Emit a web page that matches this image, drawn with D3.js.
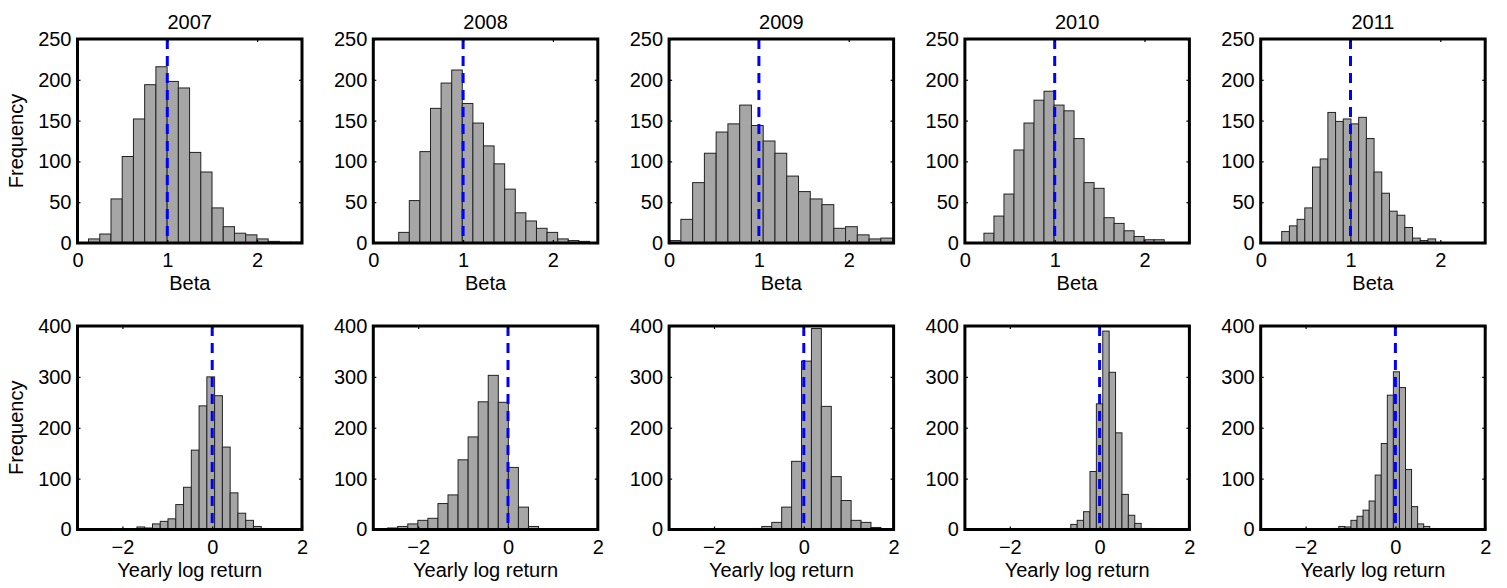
<!DOCTYPE html>
<html>
<head>
<meta charset="utf-8">
<script src="https://cdn.jsdelivr.net/npm/d3@7"></script>
<style>
  body { margin: 0; background: #fff; }
  text { font-family: "Liberation Sans", Arial, sans-serif; font-size: 20px; fill: #000; }
</style>
</head>
<body>
<div id="chart"></div>
<script>
// Yearly histograms of beta (top row) and yearly log return (bottom row).

var years = ["2007", "2008", "2009", "2010", "2011"];

// Beta histograms: first bin edge, bin width and counts per year.
var betaStart = [0.123, 0.283, 0.0, 0.212, 0.234];
var betaWidth = [0.125, 0.118, 0.131, 0.1115, 0.0857];
var beta2007 = [5, 11, 54, 106, 152, 194, 216, 198, 190, 111, 87, 43, 20, 12, 10, 5, 2, 1, 1];
var beta2008 = [13, 52, 112, 165, 196, 212, 171, 147, 119, 97, 66, 37, 27, 18, 13, 5, 3, 2];
var beta2009 = [3, 29, 74, 110, 136, 146, 169, 144, 125, 110, 82, 63, 54, 47, 18, 20, 10, 5, 6];
var beta2010 = [12, 33, 60, 114, 147, 175, 186, 169, 162, 128, 74, 67, 31, 24, 15, 8, 4, 4];
var beta2011 = [14, 21, 29, 43, 93, 103, 160, 149, 152, 146, 154, 128, 87, 61, 39, 34, 19, 6, 3, 5];

// Log return histograms: first bin edge, bin width and counts per year.
var retStart = [-2.022, -2.68, -2.04, -0.927, -1.665];
var retWidth = [0.173, 0.224, 0.221, 0.1425, 0.135];
var ret2007 = [1, 1, 5, 3, 11, 16, 21, 49, 83, 156, 243, 300, 263, 162, 72, 32, 18, 6, 2, 1];
var ret2008 = [3, 6, 11, 18, 22, 51, 68, 137, 182, 251, 303, 250, 122, 44, 6, 1];
var ret2009 = [1, 0, 1, 1, 2, 6, 14, 44, 134, 331, 395, 242, 104, 57, 18, 14, 4, 1];
var ret2010 = [1, 2, 10, 18, 35, 114, 247, 390, 309, 190, 69, 28, 12, 2, 2];
var ret2011 = [1, 1, 2, 6, 5, 18, 26, 38, 56, 107, 169, 264, 310, 279, 118, 45, 11, 6, 2, 1];

var betaDomain = [0, 2.5];
var retDomain = [-3, 2];
var betaXTicks = [0, 1, 2];
var retXTicks = [-2, 0, 2];
var betaYTicks = [0, 50, 100, 150, 200, 250];
var retYTicks = [0, 100, 200, 300, 400];
var betaRef = 1;
var retRef = 0;

var W = 1507, H = 588;
var left0 = 77.5, step = 295.8, panelW = 224.5;
var fmt = d3.format("d");

var svg = d3.select("#chart")
    .append("svg")
    .attr("width", W)
    .attr("height", H)
    .style("background-color", "white");

/**
  * Draws one histogram panel.
  * @param {object} p The panel settings (position, scales domain, data).
  */
function histPanel(p){
    var g = svg.append("g").attr("transform", "translate(" + p.left + "," + p.top + ")");
    var x = d3.scaleLinear().domain(p.domain).range([0, p.w]);
    var y = d3.scaleLinear().domain([0, p.yMax]).range([p.h, 0]);

    var clipId = "clip" + p.id;
    g.append("clipPath").attr("id", clipId)
        .append("rect").attr("width", p.w).attr("height", p.h);

    var bins = p.counts.map(function(c, i){
        return {x0: p.start + i * p.width, x1: p.start + (i + 1) * p.width, n: c};
    });

    g.append("g").attr("clip-path", "url(#" + clipId + ")")
        .selectAll("rect")
        .data(bins)
        .enter().append("rect")
        .attr("x", function(d){ return x(d.x0); })
        .attr("width", function(d){ return x(d.x1) - x(d.x0); })
        .attr("y", function(d){ return y(d.n); })
        .attr("height", function(d){ return y(0) - y(d.n); })
        .attr("fill", "#a6a6a6")
        .attr("stroke", "#222")
        .attr("stroke-width", 1);

    // reference line
    g.append("line")
        .attr("x1", x(p.ref)).attr("x2", x(p.ref))
        .attr("y1", 0).attr("y2", p.h)
        .attr("stroke", "#0000ff")
        .attr("stroke-width", 3)
        .attr("stroke-dasharray", "10,7");

    var ax = [
        g.append("g").attr("transform", "translate(0," + p.h + ")")
            .call(d3.axisBottom(x).tickValues(p.xTicks).tickFormat(fmt).tickSize(-3).tickPadding(10)),
        g.append("g")
            .call(d3.axisLeft(y).tickValues(p.yTicks).tickFormat(fmt).tickSize(-3).tickPadding(6)),
        g.append("g")
            .call(d3.axisTop(x).tickValues(p.xTicks).tickSize(-3).tickFormat("")),
        g.append("g").attr("transform", "translate(" + p.w + ",0)")
            .call(d3.axisRight(y).tickValues(p.yTicks).tickSize(-3).tickFormat(""))
    ];
    ax.forEach(function(a){
        a.select(".domain").remove();
        a.selectAll("line").attr("stroke", "#000").attr("stroke-width", 1.2);
        a.selectAll("text").attr("font-size", 20).attr("font-family", null).attr("fill", "#000");
    });

    g.append("rect")
        .attr("width", p.w).attr("height", p.h)
        .attr("fill", "none")
        .attr("stroke", "#000")
        .attr("stroke-width", 3);

    if (p.title){
        g.append("text").attr("x", p.w / 2).attr("y", -10)
            .attr("text-anchor", "middle").text(p.title);
    }
    g.append("text").attr("x", p.w / 2).attr("y", p.h + 47)
        .attr("text-anchor", "middle").text(p.xLabel);
    if (p.yLabel){
        g.append("text")
            .attr("transform", "translate(" + (22.5 - p.left) + "," + (p.h / 2) + ") rotate(-90)")
            .attr("text-anchor", "middle").text(p.yLabel);
    }
}

var betaCounts = [beta2007, beta2008, beta2009, beta2010, beta2011];
var retCounts = [ret2007, ret2008, ret2009, ret2010, ret2011];

for (var i = 0; i < years.length; i++){
    var left = left0 + i * step;
    histPanel({
        id: "b" + i, left: left, top: 39, w: panelW, h: 204,
        domain: betaDomain, yMax: 250, xTicks: betaXTicks, yTicks: betaYTicks,
        start: betaStart[i], width: betaWidth[i], counts: betaCounts[i], ref: betaRef,
        title: years[i], xLabel: "Beta", yLabel: i == 0 ? "Frequency" : null
    });
    histPanel({
        id: "r" + i, left: left, top: 326, w: panelW, h: 203.5,
        domain: retDomain, yMax: 400, xTicks: retXTicks, yTicks: retYTicks,
        start: retStart[i], width: retWidth[i], counts: retCounts[i], ref: retRef,
        title: null, xLabel: "Yearly log return", yLabel: i == 0 ? "Frequency" : null
    });
}
</script>
</body>
</html>
